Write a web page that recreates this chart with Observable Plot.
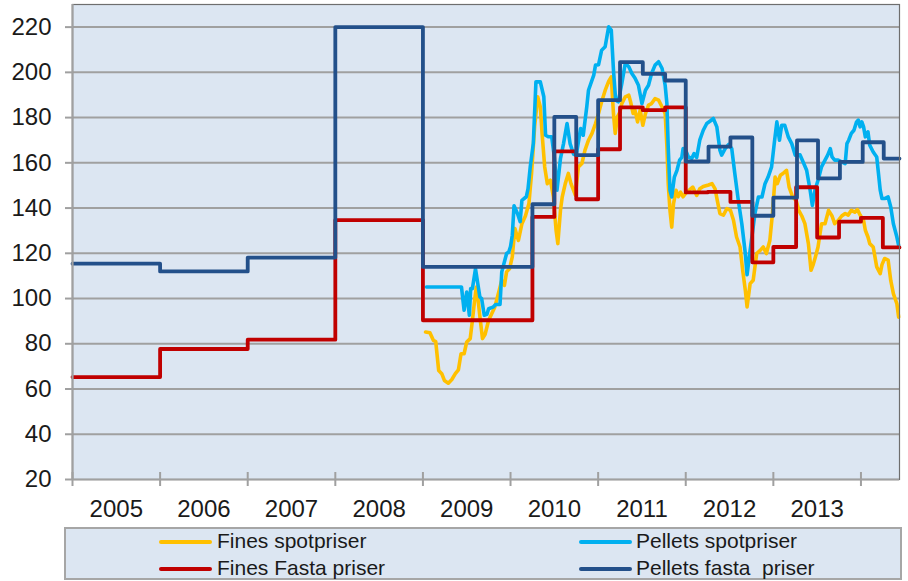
<!DOCTYPE html>
<html><head><meta charset="utf-8">
<script src="https://cdn.jsdelivr.net/npm/d3@7"></script>
<script src="https://cdn.jsdelivr.net/npm/@observablehq/plot@0.6"></script>
<style>
body{margin:0;background:#fff;font-family:"Liberation Sans",Arial,sans-serif;}
#wrap{position:relative;width:908px;height:581px;overflow:hidden;}
#legend{position:absolute;left:64px;top:527px;width:834px;height:49px;border:2px solid #a6a6a6;background:#dce6f2;}
.sw{position:absolute;height:4px;width:53px;border-radius:2px;}
.lt{position:absolute;font-size:21px;line-height:21px;color:#1a1a1a;white-space:pre;}
</style></head><body>
<div id="wrap"><div id="chart"></div><div id="legend"></div></div>
<script>
// ---- data ----
const yearLabels = ["2005","2006","2007","2008","2009","2010","2011","2012","2013"];
const yearBoundaries = [2005,2006,2007,2008,2009,2010,2011,2012,2013,2014];
const yTicks = [20,40,60,80,100,120,140,160,180,200,220];
const xEnd = 2014.44;

const seriesNames = ["Fines spotpriser","Pellets spotpriser","Fines Fasta priser","Pellets fasta  priser"];
const seriesColors = ["#ffc000","#00b0f0","#c00000","#23508a"];

const finesFastaYear  = [2005,2006,2007,2008,2009,2010.25,2010.5,2010.75,2011,2011.25,2011.51,2011.765,2012,2012.25,2012.51,2012.76,2013,2013.26,2013.5,2013.75,2014,2014.25,2014.44];
const finesFastaValue = [65.3,77.7,81.8,134.7,90.4,136.1,165.1,143.9,166,184.5,183.3,184.5,146.9,147.2,142.7,116.0,122.8,149.2,127.0,134.0,135.7,122.6,122.6];

const pelletsFastaYear  = [2005,2006,2007,2008,2009,2010.25,2010.5,2010.75,2011,2011.25,2011.51,2011.765,2012,2012.26,2012.51,2012.76,2013,2013.27,2013.51,2013.76,2014.02,2014.26,2014.44];
const pelletsFastaValue = [115.4,112,118.1,220,114,141.7,180.3,163.4,187.7,204.5,199.3,196.4,160.6,167.2,171.2,136.6,144.6,169.9,153.1,160.4,169.1,161.9,161.9];

const pelletsSpotYear = [2009.04,2009.44,2009.47,2009.50,2009.53,2009.545,2009.565,2009.60,2009.65,2009.67,2009.70,2009.73,2009.75,2009.80,2009.83,2009.88,2009.90,2009.955,2009.98,2010.00,2010.02,2010.04,2010.08,2010.11,2010.13,2010.18,2010.20,2010.225,2010.26,2010.29,2010.34,2010.38,2010.40,2010.435,2010.47,2010.50,2010.53,2010.57,2010.605,2010.645,2010.68,2010.72,2010.75,2010.80,2010.83,2010.87,2010.89,2010.95,2010.97,2011.005,2011.04,2011.08,2011.12,2011.15,2011.175,2011.20,2011.23,2011.27,2011.31,2011.35,2011.385,2011.42,2011.46,2011.50,2011.54,2011.575,2011.61,2011.65,2011.69,2011.73,2011.765,2011.785,2011.80,2011.82,2011.84,2011.87,2011.90,2011.93,2011.955,2011.97,2012.00,2012.03,2012.07,2012.095,2012.125,2012.16,2012.20,2012.24,2012.28,2012.315,2012.355,2012.39,2012.41,2012.45,2012.49,2012.525,2012.56,2012.60,2012.64,2012.68,2012.70,2012.735,2012.765,2012.79,2012.83,2012.87,2012.905,2012.94,2012.98,2013.01,2013.04,2013.07,2013.095,2013.13,2013.17,2013.21,2013.25,2013.305,2013.34,2013.38,2013.42,2013.445,2013.475,2013.51,2013.55,2013.59,2013.62,2013.65,2013.67,2013.70,2013.74,2013.78,2013.82,2013.84,2013.86,2013.89,2013.92,2013.95,2013.97,2013.99,2014.01,2014.03,2014.05,2014.08,2014.10,2014.14,2014.18,2014.20,2014.22,2014.24,2014.27,2014.31,2014.34,2014.37,2014.41,2014.43];
const pelletsSpotValue = [105.1,105.1,94.8,102.9,92.6,104.4,104.4,113.2,100.7,100.0,92.6,93.0,95.5,96.2,97.4,97.4,111.8,119.9,120.6,123,128,141,137.5,134,143.4,145,148.6,158.2,168.5,195.8,195.8,189.2,172.2,171.5,171.5,162.6,147.9,161.9,168.5,177.4,168.5,163.8,163.4,175.2,172.2,184.7,192.1,198.8,203.2,203.4,209.8,211.3,220.1,218.7,201,187.7,187,195,204,202.5,199.5,197.5,194.3,186.2,192.1,194.3,199.5,203.2,204.7,201.7,194.3,186.2,167,147.9,144.9,153.7,156.7,161.2,162.4,166.3,165.5,162.6,162,164.1,162.4,170,174.4,177.4,178.5,179.6,175.9,165.6,163.4,166.3,168.1,166.3,155.3,143.4,133.1,119.9,110.5,121.3,130.2,137.6,144.9,144.9,150.8,153.7,158.2,168.5,178.1,170,176.6,176.6,171.5,168.5,163.4,163.5,160.4,156.7,147.9,141.2,147.9,152.3,158.2,161.2,163.4,166.3,162.6,161.2,161.2,160.4,159.7,168.5,170,173,174.4,178.1,178.9,175.9,178.1,175.9,171.5,173.7,167.8,164.8,162.6,155.3,147.9,144.2,144.2,144.9,140.5,133.1,127.2,123.5];

const finesSpotYear = [2009.03,2009.08,2009.12,2009.146,2009.18,2009.215,2009.245,2009.29,2009.33,2009.37,2009.405,2009.435,2009.47,2009.50,2009.54,2009.565,2009.59,2009.61,2009.63,2009.655,2009.68,2009.71,2009.75,2009.785,2009.82,2009.86,2009.90,2009.93,2009.955,2009.99,2010.02,2010.05,2010.09,2010.13,2010.17,2010.21,2010.24,2010.275,2010.31,2010.34,2010.36,2010.39,2010.42,2010.455,2010.49,2010.52,2010.54,2010.57,2010.59,2010.625,2010.66,2010.69,2010.74,2010.775,2010.815,2010.85,2010.89,2010.93,2010.97,2011.005,2011.04,2011.08,2011.12,2011.15,2011.175,2011.195,2011.22,2011.25,2011.27,2011.31,2011.35,2011.37,2011.40,2011.42,2011.45,2011.48,2011.51,2011.54,2011.575,2011.61,2011.65,2011.69,2011.73,2011.765,2011.785,2011.80,2011.82,2011.84,2011.86,2011.89,2011.915,2011.94,2011.97,2012.00,2012.04,2012.08,2012.125,2012.16,2012.20,2012.26,2012.30,2012.335,2012.36,2012.39,2012.43,2012.47,2012.51,2012.545,2012.58,2012.62,2012.65,2012.68,2012.70,2012.735,2012.77,2012.81,2012.85,2012.885,2012.92,2012.96,2012.99,2013.02,2013.045,2013.08,2013.11,2013.15,2013.18,2013.22,2013.26,2013.29,2013.325,2013.36,2013.40,2013.43,2013.455,2013.48,2013.51,2013.55,2013.59,2013.63,2013.67,2013.70,2013.74,2013.78,2013.82,2013.855,2013.89,2013.93,2013.96,2013.99,2014.03,2014.05,2014.08,2014.10,2014.14,2014.18,2014.22,2014.24,2014.27,2014.31,2014.34,2014.37,2014.41,2014.43];
const finesSpotValue = [85.2,84.9,81.5,81,68.2,66.8,63.8,62.6,64.2,66.8,68.5,75.6,75.6,80.8,82.3,90.4,99.2,105.1,99.2,90.4,82.3,84.2,90.4,93.3,96.2,102,108,105.8,111.8,113.3,118.4,131,125.7,133.1,136.5,142,155.3,175.9,189.2,184.7,173,158.2,150.8,152.3,144.9,130.2,124.3,139,144.9,150.8,155.3,150.8,145.7,158.2,159.7,165.6,170,173,177.4,181.9,187,192,196,198,181.8,173,180.3,182.5,186.2,189.2,189.9,187,181.8,183.3,178.1,183.3,176.6,181.8,185.5,186.2,188.4,187.7,184.7,181.8,167,150.8,139,131.6,141.8,147.9,145,147,145,146.6,147.9,149.3,145.6,148.5,149.5,150.2,150.8,148.5,143.4,137.6,136.9,139.8,139,134.6,127.2,122.8,112.5,103.7,96.3,106.6,108.1,119.9,121.3,122.8,119.9,125.7,137.6,153.7,150.8,154.5,155.3,156.7,149.3,144.9,143.4,139,136.5,133.1,124.3,112.5,115,118.4,122.8,133.1,133.1,139,136.5,133.1,134.5,136.5,137.6,136.9,139,138.2,139.3,136.9,134.5,130.2,127.2,124.3,122.8,114,111,115,117.7,117,108,102.2,97.7,91.8];

// ---- tables ----
const zip = (xs, ys) => xs.map((x, i) => ({x, y: ys[i]}));
const finesSpot = zip(finesSpotYear, finesSpotValue);
const pelletsSpot = zip(pelletsSpotYear, pelletsSpotValue);
const finesFasta = zip(finesFastaYear, finesFastaValue);
const pelletsFasta = zip(pelletsFastaYear, pelletsFastaValue);
const labelPos = yearLabels.map(s => ({x: +s + 0.5, label: s}));

const W = 908, H = 527, axisY0 = 479;
const grey = "#a0a0a0";
const tickHalf = 3.1; // half tick length in value units (~7px)

const chart = Plot.plot({
  width: W, height: H,
  marginLeft: 72, marginRight: 9, marginTop: 4, marginBottom: H - axisY0,
  x: {domain: [2005, xEnd]},
  y: {domain: [20, 230]},
  style: {fontFamily: '"Liberation Sans", Arial, sans-serif', fontSize: "24px", color: "#1a1a1a", background: "white", overflow: "visible"},
  marks: [
    Plot.frame({fill: "#dce6f2", stroke: null}),
    Plot.gridY(yTicks.filter(v => v > 20), {stroke: grey, strokeOpacity: 1, strokeWidth: 2}),
    Plot.line(finesSpot, {x: "x", y: "y", stroke: seriesColors[0], strokeWidth: 3.6}),
    Plot.line(pelletsSpot, {x: "x", y: "y", stroke: seriesColors[1], strokeWidth: 3.6}),
    Plot.line(finesFasta, {x: "x", y: "y", stroke: seriesColors[2], strokeWidth: 3.8, curve: "step-after"}),
    Plot.line(pelletsFasta, {x: "x", y: "y", stroke: seriesColors[3], strokeWidth: 3.8, curve: "step-after"}),
    Plot.frame({stroke: "#6e6e6e", strokeWidth: 1.2}),
    Plot.ruleY([20], {stroke: grey, strokeWidth: 2.2}),
    Plot.ruleX([2005], {stroke: grey, strokeWidth: 2.2}),
    Plot.ruleX(yearBoundaries, {x: d => d, y1: () => 20 - tickHalf, y2: () => 20 + tickHalf, stroke: grey, strokeWidth: 2}),
    Plot.axisY(yTicks, {tickSize: 7, tickPadding: 14, fontSize: 24, stroke: grey, strokeWidth: 2, fill: "#1a1a1a", label: null}),
    Plot.axisX(labelPos.map(d => d.x), {tickSize: 0, tickPadding: 20, fontSize: 24, fill: "#1a1a1a", tickFormat: d => yearLabels[Math.round(d - 2005.5)], label: null})
  ]
});
document.getElementById("chart").appendChild(chart);

// ---- legend ----
const legend = document.getElementById("legend");
const legendPos = [
  {sx: 93, tx: 151, top: 0.9},
  {sx: 513, tx: 570, top: 0.9},
  {sx: 93, tx: 151, top: 28.2},
  {sx: 513, tx: 570, top: 28.2}
];
const legendOrder = [0, 1, 2, 3];
legendOrder.forEach((k, i) => {
  const p = legendPos[i];
  const sw = document.createElement("div");
  sw.className = "sw";
  sw.style.left = p.sx + "px";
  sw.style.top = (p.top + 9.6) + "px";
  sw.style.background = seriesColors[k];
  legend.appendChild(sw);
  const t = document.createElement("div");
  t.className = "lt";
  t.style.left = p.tx + "px";
  t.style.top = p.top + "px";
  t.textContent = seriesNames[k];
  legend.appendChild(t);
});
</script>
</body></html>
